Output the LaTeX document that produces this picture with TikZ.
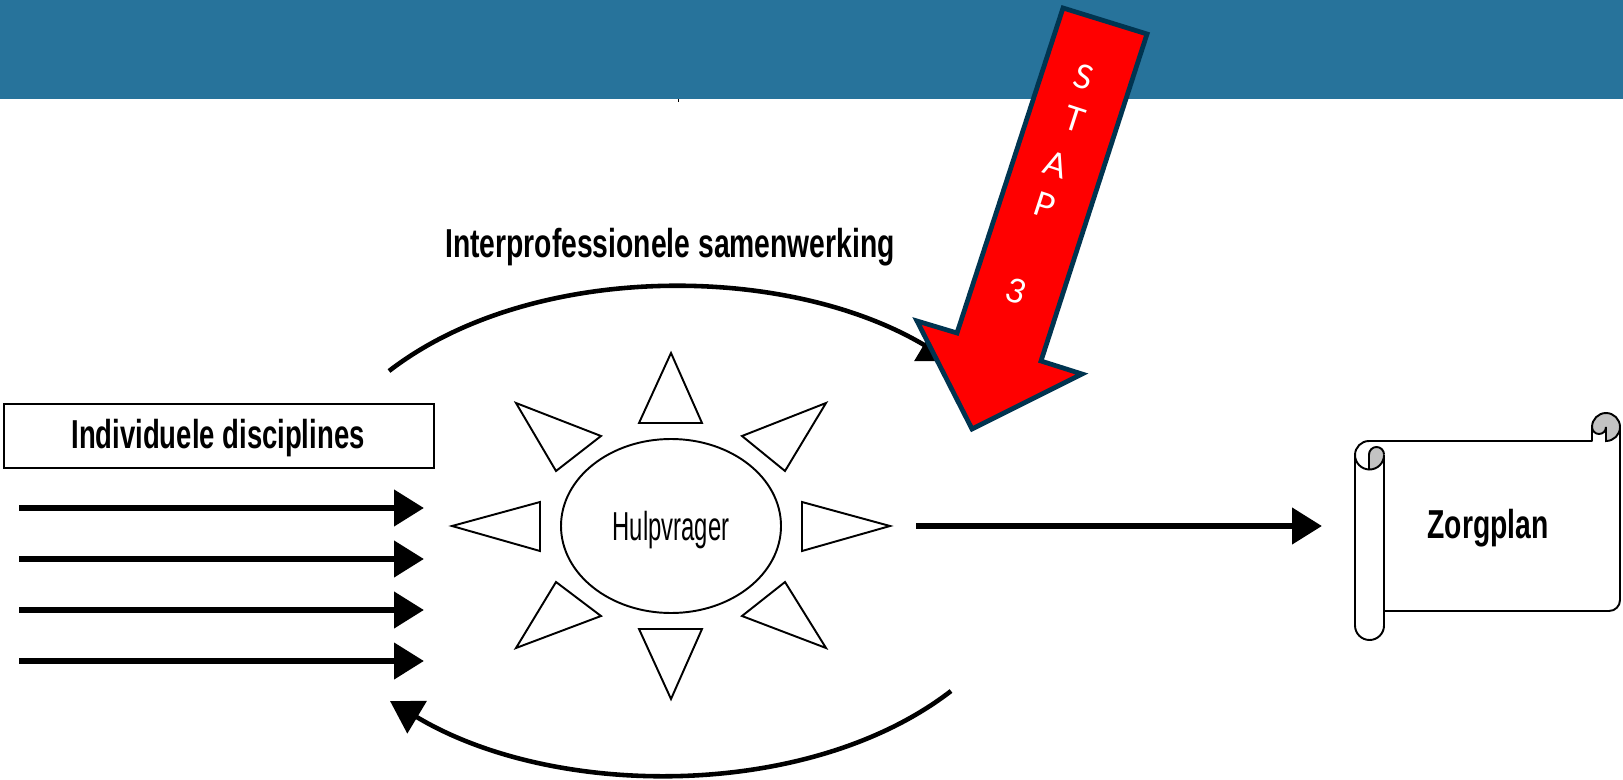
\documentclass[tikz,border=0pt]{standalone}
\usepackage{fontspec}
\usetikzlibrary{arrows.meta,shapes.geometric}
\newfontfamily\labelfont[FakeStretch=0.70]{Liberation Sans}
\newfontfamily\boxfont[FakeStretch=0.68]{Liberation Sans}
\newfontfamily\thinfont[FakeStretch=0.59]{Liberation Sans}
\setmainfont{Lato}
\definecolor{bandblue}{RGB}{39,115,155}
\definecolor{arrowedge}{RGB}{0,52,80}
\definecolor{curlgray}{RGB}{195,195,195}
\tikzset{
  thickarrow/.style={line width=1.85pt,-{Triangle[length=8.5pt,width=10pt]}},
  arcarrow/.style={line width=1.3pt,-{Triangle[length=9pt,width=10.5pt]}},
  thinline/.style={line width=0.55pt,line join=miter},
  boldlabel/.style={font=\labelfont\bfseries\fontsize{11.5}{13}\selectfont,inner sep=0pt},
  stapletter/.style={text=white,rotate=-18,font=\fontsize{9.5}{11}\selectfont,inner sep=0pt}
}
\begin{document}
\begin{tikzpicture}
\useasboundingbox (0,0) rectangle (16.23,7.79);
\fill[bandblue] (0,6.80) rectangle (16.23,7.79);
\fill[black] (6.78,6.80) rectangle (6.79,6.77);
\node[boldlabel] (title) at (6.70,5.32) {Interprofessionele samenwerking};
\node[thinline,draw,minimum width=4.30cm,minimum height=0.64cm,inner sep=0pt] (disciplines) at (2.19,3.43) {};
\node[boldlabel,font=\boxfont\bfseries\fontsize{11.5}{13}\selectfont] (disciplineslabel) at (2.18,3.41) {Individuele disciplines};
\foreach \y/\name in {2.71/a,2.20/b,1.69/c,1.18/d} {
  \coordinate (from\name) at (0.19,\y);
  \coordinate (to\name) at (4.24,\y);
  \draw[thickarrow] (from\name) -- (to\name);
}
\node[thinline,draw,ellipse,minimum width=2.20cm,minimum height=1.74cm,inner sep=0pt] (hulpvrager) at (6.71,2.53) {};
\node[font=\thinfont\fontsize{11.5}{13}\selectfont,inner sep=0pt] (hulpvragerlabel) at (6.71,2.49) {Hulpvrager};
\draw[thinline] (6.71,4.26) -- (6.39,3.56) -- (7.02,3.56) -- cycle;
\draw[thinline] (6.71,0.80) -- (6.39,1.50) -- (7.02,1.50) -- cycle;
\draw[thinline] (4.52,2.53) -- (5.40,2.77) -- (5.40,2.28) -- cycle;
\draw[thinline] (8.90,2.53) -- (8.02,2.77) -- (8.02,2.28) -- cycle;
\draw[thinline] (5.16,3.76) -- (6.01,3.43) -- (5.56,3.08) -- cycle;
\draw[thinline] (8.26,3.76) -- (7.42,3.43) -- (7.85,3.08) -- cycle;
\draw[thinline] (5.16,1.31) -- (6.01,1.63) -- (5.56,1.97) -- cycle;
\draw[thinline] (8.26,1.31) -- (7.42,1.63) -- (7.85,1.97) -- cycle;
\coordinate (planstart) at (9.16,2.53);
\coordinate (planend) at (13.22,2.53);
\draw[thickarrow] (planstart) -- (planend);
\coordinate (topstart) at (3.89,4.08);
\coordinate (topend) at (9.51,4.18);
\draw[arcarrow] (topstart) .. controls (5.30,5.17) and (7.85,5.17) .. (topend);
\coordinate (bottomstart) at (9.51,0.88);
\coordinate (bottomend) at (3.90,0.78);
\draw[arcarrow] (bottomstart) .. controls (8.10,-0.21) and (5.55,-0.21) .. (bottomend);
\draw[arrowedge,fill=red,line width=1.35pt,miter limit=10] (10.63,7.71) -- (11.47,7.45) -- (10.41,4.18) -- (10.82,4.05) -- (9.72,3.50) -- (9.17,4.58) -- (9.57,4.46) -- cycle;
\node[stapletter] (s) at (10.84,7.02) {S};
\node[stapletter] (t) at (10.75,6.60) {T};
\node[stapletter] (a) at (10.56,6.14) {A};
\node[stapletter] (p) at (10.45,5.74) {P};
\node[stapletter] (three) at (10.16,4.88) {3};
\fill[curlgray] (15.92,3.52) arc (180:0:0.14) arc (0:-90:0.14) -- (16.06,3.52) arc (0:-180:0.07) -- cycle;
\fill[curlgray] (13.69,3.09) -- (13.69,3.245) arc (180:0:0.075) arc (0:-90:0.15) -- cycle;
\draw[thinline,line join=round] (13.55,3.24) arc (180:90:0.14) -- (15.92,3.38) -- (15.92,3.52) arc (180:0:0.14) -- (16.20,1.79) arc (0:-90:0.11) -- (13.84,1.68);
\draw[thinline] (13.55,3.24) -- (13.55,1.535) arc (180:360:0.145) -- (13.84,3.245);
\draw[thinline] (13.55,3.24) arc (180:360:0.145);
\draw[thinline] (13.69,3.09) -- (13.69,3.245) arc (180:0:0.075);
\draw[thinline] (16.20,3.52) arc (0:-90:0.14) -- (16.06,3.52) arc (0:-180:0.07);
\node[boldlabel] (zorgplan) at (14.88,2.51) {Zorgplan};
\end{tikzpicture}
\end{document}
